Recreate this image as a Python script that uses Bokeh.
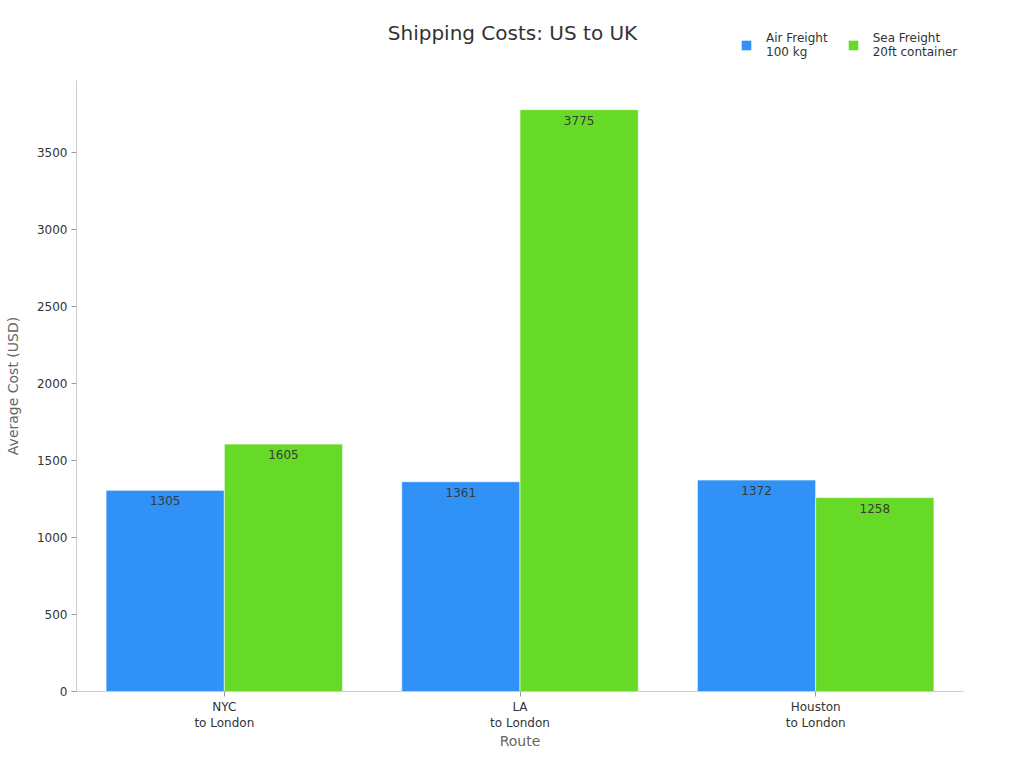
from bokeh.plotting import figure
from bokeh.layouts import column
from bokeh.models import (ColumnDataSource, FactorRange, Range1d, Legend, LegendItem,
                          SingleIntervalTicker, Label)
from bokeh.transform import dodge
from bokeh.core.properties import value
from bokeh.embed import file_html
from bokeh.resources import INLINE

title_text = "Shipping Costs: US to UK"
routes = ["NYC\nto London", "LA\nto London", "Houston\nto London"]
air = [1305, 1361, 1372]
sea = [1605, 3775, 1258]
series_labels = ["Air Freight\n100 kg", "Sea Freight\n20ft container"]
colors = ["#3091F7", "#67DA27"]

FONT = "DejaVu Sans"
W = 1008
LEFT, RIGHT = 76, 45

# ---- header (title + legend) ----
hdr = figure(width=W, height=80, x_range=Range1d(LEFT, W - RIGHT), y_range=Range1d(0, 80),
             output_backend="svg", toolbar_location=None,
             min_border_left=LEFT, min_border_right=RIGHT, min_border_top=0, min_border_bottom=0)
hdr.axis.visible = False
hdr.grid.grid_line_color = None
hdr.outline_line_color = None
hdr.add_layout(Label(x=512, y=48, text=title_text, text_align="center", text_baseline="middle",
                     text_font=FONT, text_font_size="20px", text_color="#333333"))
swatch = ColumnDataSource(dict(x=[0], top=[0]))
d1 = hdr.vbar(x="x", top="top", width=0, source=swatch, fill_color=colors[0], line_color=None)
d2 = hdr.vbar(x="x", top="top", width=0, source=swatch, fill_color=colors[1], line_color=None)
legend = Legend(items=[LegendItem(label=series_labels[0], renderers=[d1]),
                       LegendItem(label=series_labels[1], renderers=[d2])],
                orientation="horizontal", location=(664, 21),
                label_text_font=FONT, label_text_font_size="12px", label_text_color="#333333",
                glyph_width=12, glyph_height=12, spacing=19, label_standoff=14,
                background_fill_alpha=0, border_line_alpha=0, padding=0, margin=0)
hdr.add_layout(legend, "center")

# ---- main chart ----
src = ColumnDataSource(dict(route=routes, air=air, sea=sea,
                            air_t=[str(v) for v in air], sea_t=[str(v) for v in sea]))

p = figure(width=W, height=672, x_range=FactorRange(*routes), y_range=Range1d(0, 3964),
           output_backend="svg", toolbar_location=None,
           min_border_left=LEFT, min_border_right=RIGHT, min_border_top=0, min_border_bottom=61)

r1 = p.vbar(x=dodge("route", -0.2, range=p.x_range), top="air", width=0.4, source=src,
            fill_color=colors[0], line_color="white", line_alpha=0.6, line_width=1)
r2 = p.vbar(x=dodge("route", 0.2, range=p.x_range), top="sea", width=0.4, source=src,
            fill_color=colors[1], line_color="white", line_alpha=0.6, line_width=1)

for col, off in (("air", -0.2), ("sea", 0.2)):
    p.text(x=dodge("route", off, range=p.x_range), y=col, text=col + "_t", source=src,
           text_align="center", text_baseline="top", y_offset=6,
           text_font=value(FONT), text_font_size="12px", text_color="#3a3a3a")

p.xgrid.grid_line_color = None
p.ygrid.grid_line_color = None
p.outline_line_color = None

p.yaxis.ticker = SingleIntervalTicker(interval=500)
p.yaxis.axis_label = "Average Cost (USD)"
p.xaxis.axis_label = "Route"
for ax in (p.xaxis, p.yaxis):
    ax.axis_line_color = "#cccccc"
    ax.major_tick_line_color = "#999999"
    ax.major_tick_out = 5
    ax.major_tick_in = 0
    ax.minor_tick_line_color = None
    ax.major_label_text_font = FONT
    ax.major_label_text_font_size = "12px"
    ax.major_label_text_color = "#333333"
    ax.axis_label_text_font = FONT
    ax.axis_label_text_font_size = "14px"
    ax.axis_label_text_font_style = "normal"
    ax.axis_label_text_color = "#666666"
p.xaxis.major_label_standoff = 3
p.xaxis.axis_label_standoff = 0
p.yaxis.major_label_standoff = 4
p.yaxis.axis_label_standoff = 13

layout = column(hdr, p, spacing=0)
open("out.html", "w").write(file_html(layout, INLINE))
